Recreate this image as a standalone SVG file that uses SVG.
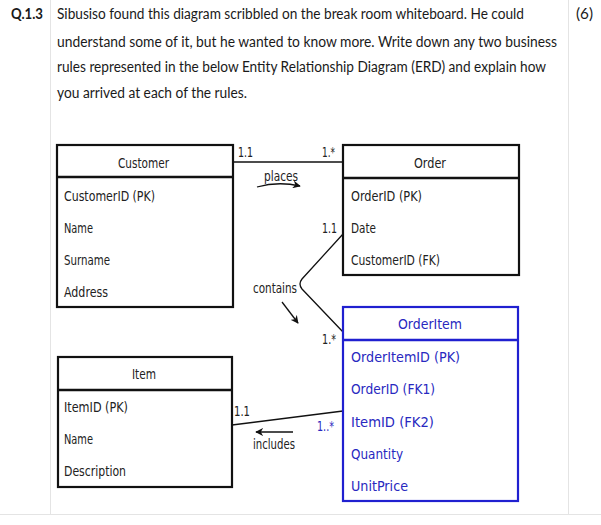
<svg xmlns="http://www.w3.org/2000/svg" width="601" height="525" viewBox="0 0 601 525">
<defs>
<style>
.hdr{font-family:"Lato","Open Sans","Liberation Sans",sans-serif;font-size:14.5px;fill:#1a1a1a}
.hb{font-weight:bold}
.sk{font-family:"DejaVu Sans Condensed","Liberation Sans Narrow","Liberation Sans",sans-serif;font-size:14px;fill:#222}
.bl{font-family:"DejaVu Sans Condensed","Liberation Sans",sans-serif;font-size:14px;fill:#2828c0}
.box{fill:#fff;stroke:#111;stroke-width:2.2}
.bbox{fill:#fff;stroke:#2020d0;stroke-width:2.2}
.div{stroke:#111;stroke-width:2.6}
.bdiv{stroke:#2020d0;stroke-width:2.4}
.con{fill:none;stroke:#111;stroke-width:1.3}
.grid{stroke:#e4e4e4;stroke-width:1}
</style>
<marker id="ah" viewBox="0 0 10 10" refX="9" refY="5" markerWidth="8" markerHeight="8" orient="auto" markerUnits="userSpaceOnUse">
<path d="M0,0 L10,5 L0,10 L3,5 Z" fill="#111"/>
</marker>
</defs>
<rect width="601" height="525" fill="#fff"/>
<g id="page-grid">
<line class="grid" x1="50.5" y1="0" x2="50.5" y2="514"/>
<line class="grid" x1="568.5" y1="0" x2="568.5" y2="514"/>
<line class="grid" x1="0" y1="514.5" x2="601" y2="514.5"/>
</g>
<g id="question">
<text class="hdr hb" x="11" y="19" textLength="32" lengthAdjust="spacingAndGlyphs">Q.1.3</text>
<text class="hdr" x="57" y="19" textLength="467" lengthAdjust="spacingAndGlyphs">Sibusiso found this diagram scribbled on the break room whiteboard. He could</text>
<text class="hdr" x="57" y="47" textLength="500" lengthAdjust="spacingAndGlyphs">understand some of it, but he wanted to know more. Write down any two business</text>
<text class="hdr" x="57" y="72" textLength="489" lengthAdjust="spacingAndGlyphs">rules represented in the below Entity Relationship Diagram (ERD) and explain how</text>
<text class="hdr" x="57" y="98" textLength="190" lengthAdjust="spacingAndGlyphs">you arrived at each of the rules.</text>
<text class="hdr" x="576" y="19" textLength="17" lengthAdjust="spacingAndGlyphs">(6)</text>
</g>
<g id="connectors">
<line class="con" x1="233" y1="162" x2="343" y2="162"/>
<path class="con" d="M343,234 L302,279 Q298,284 302,289 L343,332"/>
<line class="con" x1="232" y1="425" x2="343" y2="411"/>
<path class="con" d="M257,187 Q278,181 300,186" stroke-width="1.6" marker-end="url(#ah)"/>
<line class="con" x1="282" y1="302" x2="298" y2="323" stroke-width="1.6" marker-end="url(#ah)"/>
<line class="con" x1="293" y1="432" x2="256" y2="432" stroke-width="1.6" marker-end="url(#ah)"/>
<text class="sk" x="238" y="157" textLength="15" lengthAdjust="spacingAndGlyphs">1.1</text>
<text class="sk" x="322" y="157" textLength="13" lengthAdjust="spacingAndGlyphs">1.*</text>
<text class="sk" x="264" y="181" textLength="34" lengthAdjust="spacingAndGlyphs">places</text>
<text class="sk" x="322" y="233" textLength="15" lengthAdjust="spacingAndGlyphs">1.1</text>
<text class="sk" x="253" y="293" textLength="44" lengthAdjust="spacingAndGlyphs">contains</text>
<text class="sk" x="322" y="344" textLength="14" lengthAdjust="spacingAndGlyphs">1.*</text>
<text class="sk" x="234" y="416" textLength="16" lengthAdjust="spacingAndGlyphs">1.1</text>
<text class="bl" x="317" y="431" textLength="17" lengthAdjust="spacingAndGlyphs">1..*</text>
<text class="sk" x="253" y="449" textLength="42" lengthAdjust="spacingAndGlyphs">includes</text>
</g>
<g id="customer">
<rect class="box" x="57" y="145" width="176" height="162"/>
<line class="div" x1="57" y1="177" x2="233" y2="177"/>
<text class="sk" x="118" y="168" textLength="51" lengthAdjust="spacingAndGlyphs">Customer</text>
<text class="sk" x="64" y="201" textLength="91" lengthAdjust="spacingAndGlyphs">CustomerID (PK)</text>
<text class="sk" x="64" y="233" textLength="29" lengthAdjust="spacingAndGlyphs">Name</text>
<text class="sk" x="64" y="265" textLength="46" lengthAdjust="spacingAndGlyphs">Surname</text>
<text class="sk" x="64" y="297" textLength="44" lengthAdjust="spacingAndGlyphs">Address</text>
</g>
<g id="order">
<rect class="box" x="343" y="145" width="176" height="130"/>
<line class="div" x1="343" y1="178" x2="519" y2="178"/>
<text class="sk" x="414" y="168" textLength="32" lengthAdjust="spacingAndGlyphs">Order</text>
<text class="sk" x="351" y="201" textLength="71" lengthAdjust="spacingAndGlyphs">OrderID (PK)</text>
<text class="sk" x="351" y="233" textLength="25" lengthAdjust="spacingAndGlyphs">Date</text>
<text class="sk" x="351" y="265" textLength="89" lengthAdjust="spacingAndGlyphs">CustomerID (FK)</text>
</g>
<g id="orderitem">
<rect class="bbox" x="343" y="307" width="175" height="194"/>
<line class="bdiv" x1="343" y1="340" x2="518" y2="340"/>
<text class="bl" x="398" y="329" textLength="64" lengthAdjust="spacingAndGlyphs">OrderItem</text>
<text class="bl" x="351" y="362" textLength="109" lengthAdjust="spacingAndGlyphs">OrderItemID (PK)</text>
<text class="bl" x="351" y="394" textLength="84" lengthAdjust="spacingAndGlyphs">OrderID (FK1)</text>
<text class="bl" x="351" y="427" textLength="83" lengthAdjust="spacingAndGlyphs">ItemID (FK2)</text>
<text class="bl" x="351" y="459" textLength="52" lengthAdjust="spacingAndGlyphs">Quantity</text>
<text class="bl" x="351" y="491" textLength="57" lengthAdjust="spacingAndGlyphs">UnitPrice</text>
</g>
<g id="item">
<rect class="box" x="58" y="357" width="174" height="130"/>
<line class="div" x1="58" y1="390" x2="232" y2="390"/>
<text class="sk" x="132" y="379" textLength="24" lengthAdjust="spacingAndGlyphs">Item</text>
<text class="sk" x="64" y="412" textLength="64" lengthAdjust="spacingAndGlyphs">ItemID (PK)</text>
<text class="sk" x="64" y="444" textLength="29" lengthAdjust="spacingAndGlyphs">Name</text>
<text class="sk" x="64" y="476" textLength="62" lengthAdjust="spacingAndGlyphs">Description</text>
</g>
</svg>
